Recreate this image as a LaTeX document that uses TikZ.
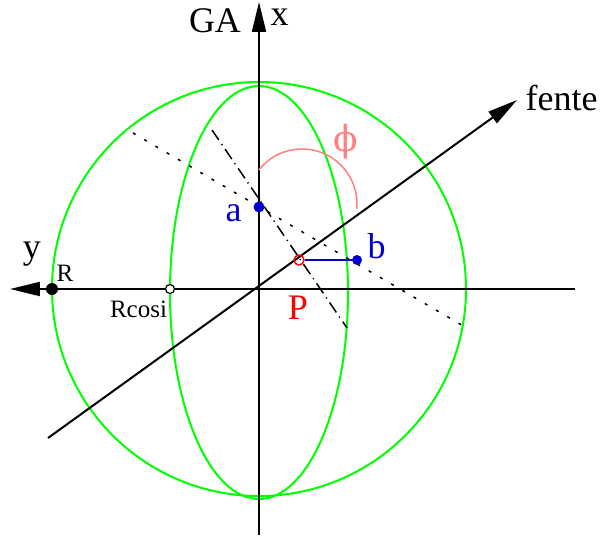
\documentclass[tikz,border=0pt]{standalone}
\usepackage{fontspec}
\setmainfont{Liberation Serif}
\newfontfamily\greekfont{DejaVu Serif}
\usepackage{xcolor}
\usepackage{tikz}
\usetikzlibrary{arrows.meta,calc}

\definecolor{figgreen}{RGB}{0,255,0}
\definecolor{figblue}{RGB}{0,0,205}
\definecolor{figpink}{RGB}{255,128,128}
\newcommand\biglbl{\fontsize{18}{20}\selectfont}
\newcommand\smalllbl{\fontsize{12.5}{14}\selectfont}

\tikzset{
  sphere/.style={draw=figgreen, line width=1pt},
  axis/.style={line width=1pt, -{Triangle[length=15pt,width=7pt]}},
  dashdotline/.style={line width=0.75pt, dash pattern=on 6pt off 2.5pt on 0.6pt off 2.5pt},
  dotline/.style={line width=0.75pt, dash pattern=on 1.5pt off 5pt},
  phiarc/.style={draw=figpink, line width=0.75pt},
  dotblue/.style={circle, fill=figblue, inner sep=0pt, minimum size=5.5pt},
  dotblack/.style={circle, fill=black, inner sep=0pt, minimum size=6pt},
  ringred/.style={circle, draw=red, line width=0.7pt, inner sep=0pt, minimum size=5pt},
  ringblack/.style={circle, draw=black, fill=white, line width=0.6pt, inner sep=0pt, minimum size=4.5pt},
  biglabel/.style={inner sep=0pt, font=\biglbl},
  smalllabel/.style={inner sep=0pt, font=\smalllbl}
}

\begin{document}
\begin{tikzpicture}[x=0.5pt,y=0.5pt]
\useasboundingbox (-259,-252) rectangle (344,289);
% sphere and meridian
\coordinate (O) at (0,0);
\draw[sphere] (O) circle[radius=103.5pt];
\draw[sphere] (0,-3.5) ellipse[x radius=44.5pt, y radius=103.25pt];

% axes
\coordinate (xbot) at (0,-246);
\coordinate (xtop) at (0,287);
\coordinate (yright) at (316,0);
\coordinate (yleft) at (-249,0);
\coordinate (fbot) at (-211,-149);
\coordinate (ftop) at (258,189);
\draw[axis] (xbot) -- (xtop);
\draw[axis] (yright) -- (yleft);
\draw[axis] (fbot) -- (ftop);

% construction lines
\coordinate (d1) at (-47,159);
\coordinate (d2) at (88,-39);
\draw[dashdotline] (d1) -- (d2);
\coordinate (t1) at (-126,156);
\coordinate (t2) at (206,-38);
\draw[dotline] (t1) -- (t2);

% angle phi
\coordinate (phic) at (43,85);
\draw[phiarc] ($(phic)+(141.7:27.5pt)$) arc[start angle=141.7, end angle=-5.2, radius=27.5pt];

% points
\node[dotblue] (a) at (0,82) {};
\node[dotblue, minimum size=5pt] (b) at (98,29) {};
\node[ringred] (P) at (40,29) {};
\draw[figblue, line width=1pt] (P) -- (b);
\node[dotblack] (R) at (-207,0) {};
\node[ringblack] (Rc) at (-89,0) {};

% labels
\node[biglabel] (GAlbl) at (-44,268.5) {GA};
\node[biglabel] (xlbl) at (20.5,272) {x};
\node[biglabel] (ylbl) at (-227,35) {y};
\node[biglabel] (fentelbl) at (302.5,191) {fente};
\node[biglabel, text=figblue] (albl) at (-25.5,75.5) {a};
\node[biglabel, text=figblue] (blbl) at (117.5,42.5) {b};
\node[biglabel, text=red] (Plbl) at (39,-18.5) {P};
\node[biglabel, text=figpink] (philbl) at (87,147) {\greekfont ϕ};
\node[smalllabel] (Rlbl) at (-194,15.5) {R};
\node[smalllabel] (Rclbl) at (-120.5,-20) {Rcosi};
\end{tikzpicture}
\end{document}
